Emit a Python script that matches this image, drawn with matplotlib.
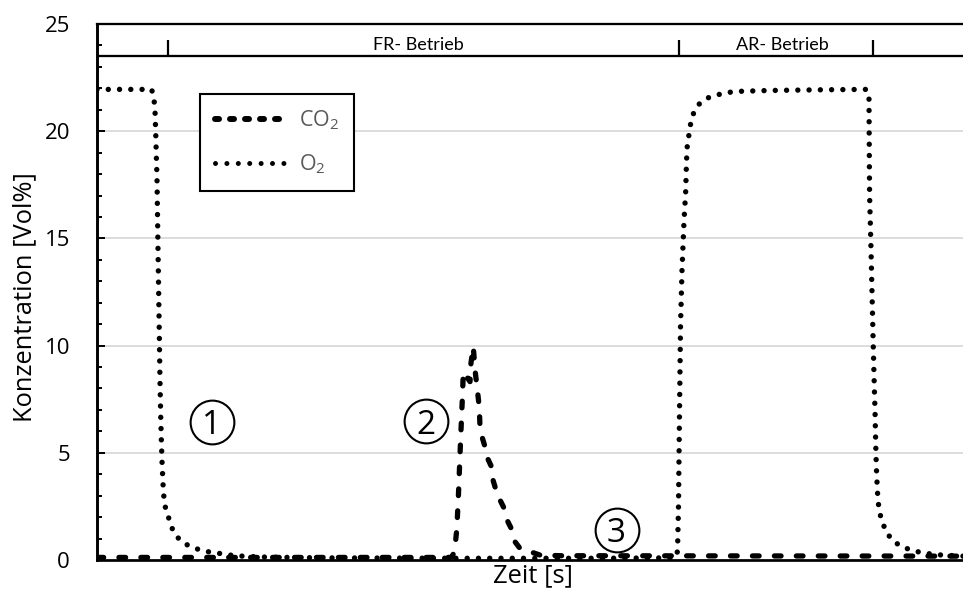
import matplotlib
matplotlib.use("Agg")
import matplotlib.pyplot as plt
from matplotlib.lines import Line2D
from matplotlib.ticker import MultipleLocator, NullLocator

plt.rcParams['font.family'] = ['Open Sans', 'DejaVu Sans']
plt.rcParams['mathtext.fontset'] = 'custom'
plt.rcParams['mathtext.rm'] = 'Open Sans'
plt.rcParams['mathtext.default'] = 'regular'
plt.rcParams['lines.scale_dashes'] = False

# Measured gas concentrations [Vol%] over time [s]
o2_time = [0, 109.4, 114, 116, 117.4, 118.6, 120, 120.6, 122, 124, 126, 127.4,
           128.6, 130, 132, 133.4, 136, 142.6, 149.4, 159.4, 174, 192.6, 212.6,
           232.6, 254.6, 274, 326, 446, 706, 1006, 1156, 1161, 1163, 1164.6,
           1167, 1170, 1174, 1177.4, 1178.6, 1179.4, 1180.6, 1184, 1187.4,
           1193.4, 1205.4, 1222.6, 1241.4, 1262.6, 1286, 1346, 1446, 1538,
           1542, 1544, 1544.6, 1545.2, 1548, 1550, 1552, 1554.6, 1556, 1557.4,
           1558.6, 1560.6, 1562, 1564.6, 1570.6, 1579.4, 1592, 1609.4, 1628,
           1646, 1667.4, 1689.4, 1732]
o2_conc = [21.95, 21.95, 21.48, 20.99, 19.95, 18.89, 17.83, 16.79, 14.5, 11.5,
           8.32, 6.73, 5.67, 4.62, 3.56, 3.03, 2.52, 2.02, 1.51, 1.09, 0.78,
           0.57, 0.43, 0.34, 0.28, 0.2, 0.14, 0.1, 0.08, 0.08, 0.1, 0.4, 2.5,
           6.0, 10.9, 13.5, 15.8, 17.2, 18.27, 18.81, 19.33, 19.85, 20.37,
           20.86, 21.3, 21.56, 21.7, 21.81, 21.86, 21.9, 21.93, 21.95, 21.85,
           21.5, 19.0, 17.0, 14.5, 12.5, 10.5, 8.08, 7.0, 5.44, 4.38, 3.33,
           2.8, 2.27, 1.76, 1.27, 0.89, 0.62, 0.47, 0.36, 0.28, 0.23, 0.18]

co2_time = [0, 706, 710, 713, 716, 719, 721, 723, 725, 727, 729, 731, 732.6,
            738, 746, 748, 752.6, 756, 760, 764.6, 766, 770, 776, 780, 790,
            792, 802, 806, 816, 820, 830, 836, 846, 866, 886, 926, 1732]
co2_conc = [0.12, 0.12, 0.15, 0.3, 0.6, 1.3, 2.1, 3.1, 4.3, 5.5, 6.6, 7.7, 8.78,
            8.6, 8.32, 9.2, 9.95, 8.86, 8.1, 7.1, 6.2, 5.75, 5.28, 4.8, 4.3,
            3.73, 2.95, 2.8, 2.33, 1.87, 1.4, 0.85, 0.54, 0.39, 0.23, 0.2, 0.18]

# Operating phases shown in the band at the top
phase_bounds = [142, 1164, 1552]
phase_labels = ["FR- Betrieb", "AR- Betrieb"]
phase_label_x = [642, 1370]
band_level = 23.5
band_tick_top = 24.25
band_text_y = 24.02

# Circled step markers
step_labels = ["1", "2", "3"]
step_x = [230, 657, 1039]
step_y = [6.44, 6.46, 1.4]

x_max = 1732
y_max = 25

fig = plt.figure(figsize=(9.63, 5.97), dpi=100)
ax = fig.add_axes([97 / 963, 37 / 597, 866 / 963, 536 / 597])

co2_line, = ax.plot(co2_time, co2_conc, color='black', lw=3.8, zorder=3)
co2_line.set_dashes((4.8, 11.0))
co2_line.set_dash_capstyle('round')

o2_line, = ax.plot(o2_time, o2_conc, color='black', lw=3.9, zorder=3)
o2_line.set_dashes((0.01, 8.1))
o2_line.set_dash_capstyle('round')

ax.set_xlim(0, x_max)
ax.set_ylim(0, y_max)

# Axes styling
ax.spines['right'].set_visible(False)
ax.spines['left'].set_linewidth(2.1)
ax.spines['bottom'].set_linewidth(1.95)
ax.spines['top'].set_linewidth(1.65)

ax.xaxis.set_major_locator(NullLocator())
ax.yaxis.set_major_locator(MultipleLocator(5))
ax.yaxis.set_minor_locator(MultipleLocator(1))
ax.tick_params(axis='y', which='major', direction='in', length=5.8, width=1.4,
               pad=19.4, labelsize=16, colors='black')
ax.tick_params(axis='y', which='minor', direction='in', length=3.6, width=1.4)
ax.yaxis.grid(True, which='major', color='#d9d9d9', lw=1.3, zorder=0)
ax.set_axisbelow(True)

ax.set_ylabel("Konzentration [Vol%]", fontsize=18.4)
ax.yaxis.set_label_coords(-0.0690, 0.49)
ax.set_xlabel("Zeit [s]", fontsize=18.4)
ax.xaxis.set_label_coords(0.5035, -0.0055)

# Phase band
ax.axhline(band_level, color='black', lw=1.65, zorder=4)
ax.vlines(phase_bounds, band_level, band_tick_top, color='black', lw=1.6, zorder=4)
for lbl, xl in zip(phase_labels, phase_label_x):
    ax.text(xl, band_text_y, lbl, ha='center', va='center', fontsize=13,
            family=['Lato', 'DejaVu Sans'])

# Circled step markers
ax.plot(step_x, step_y, linestyle='none', marker='o', markersize=31.5,
        markerfacecolor='none', markeredgecolor='black', markeredgewidth=1.5,
        zorder=5)
for lbl, xs, ys in zip(step_labels, step_x, step_y):
    ax.text(xs, ys, lbl, ha='center', va='center_baseline', fontsize=24, zorder=6)

# Legend
co2_handle = Line2D([], [], color='black', lw=4.3, dashes=(2.9, 7.9),
                    dash_capstyle='round')
o2_handle = Line2D([], [], color='black', lw=3.6, dashes=(0.01, 8.2),
                   dash_capstyle='round')
leg = ax.legend([co2_handle, o2_handle], ["CO$_2$", "O$_2$"],
                loc='upper left', bbox_to_anchor=(0.1189, 0.870),
                borderaxespad=0, fontsize=15.5, handlelength=3.4,
                handletextpad=0.5, borderpad=0.7, labelspacing=0.95,
                fancybox=False, framealpha=1, edgecolor='black')
leg.get_frame().set_linewidth(1.5)
for t in leg.get_texts():
    t.set_color('#595959')

fig.savefig("out.png", dpi=100)
